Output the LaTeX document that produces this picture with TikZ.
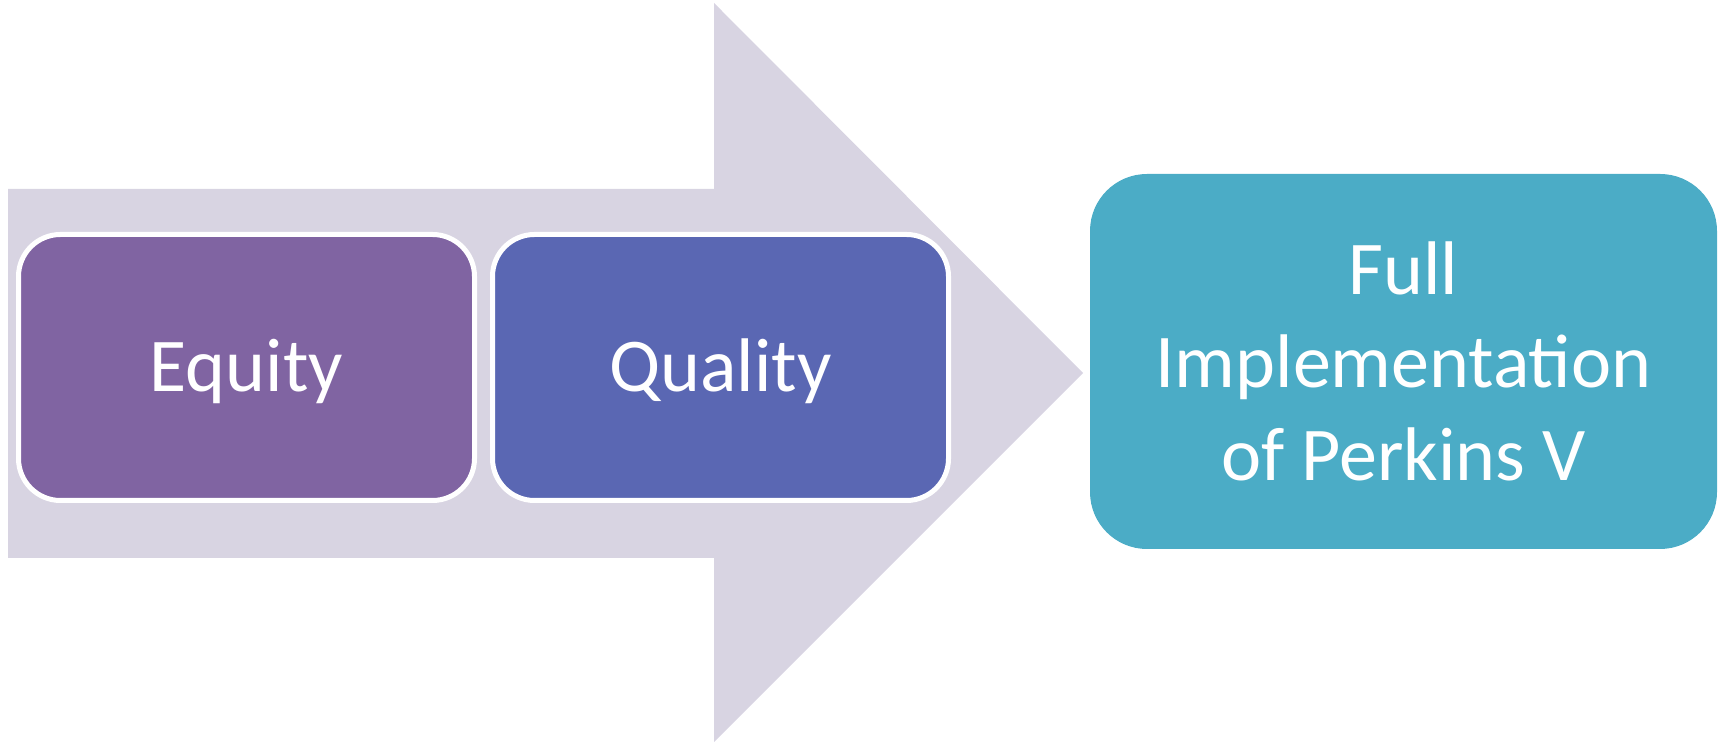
\documentclass[tikz,border=0pt]{standalone}
\usepackage{fontspec}
\setmainfont{Carlito}
\definecolor{arrowgray}{HTML}{D8D4E2}
\definecolor{eqpurple}{HTML}{8064A2}
\definecolor{qublue}{HTML}{5A67B3}
\definecolor{fullteal}{HTML}{4BACC6}
\tikzset{
  x=1pt,y=1pt,
  stagebox/.style={rounded corners=42pt, fill=#1, draw=white, line width=5pt,
    minimum width=456pt, minimum height=266pt, inner sep=0pt,
    text=white, font=\fontsize{76}{93}\selectfont, text height=48pt, text depth=0pt},
  goalbox/.style={rounded corners=57pt, fill=fullteal, draw=none,
    minimum width=627pt, minimum height=375pt, inner sep=0pt, align=center,
    text=white, font=\fontsize{76}{93}\selectfont}
}
\begin{document}
\begin{tikzpicture}
\useasboundingbox (0,0) rectangle (1727,743);
\fill[arrowgray] (8,554) -- (714,554) -- (714,740) -- (1083,370) -- (714,1) -- (714,185) -- (8,185) -- cycle;
\node[stagebox=eqpurple] (equity) at (246.5,375.5) {Equity};
\node[stagebox=qublue] (quality) at (720.5,375.5) {Quality};
\node[goalbox] (full) at (1403.5,381.5) {Full\\Implementation\\of Perkins V};
\end{tikzpicture}
\end{document}
